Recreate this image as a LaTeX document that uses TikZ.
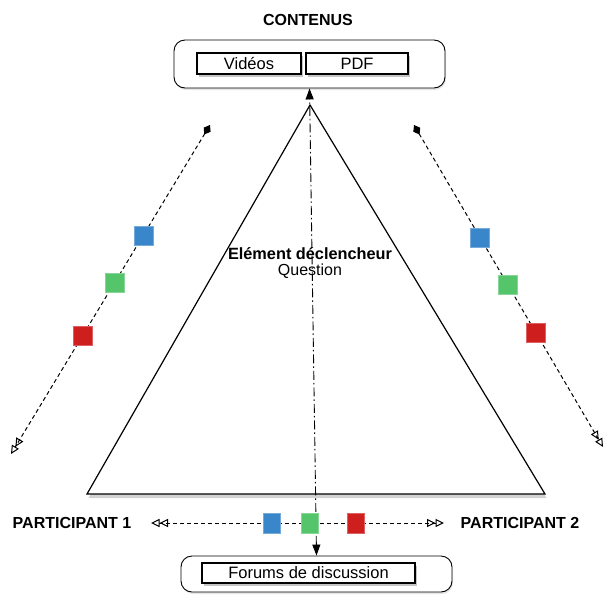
\documentclass[tikz,border=0pt]{standalone}
\usepackage{fontspec}
\setmainfont{Liberation Sans}
\usetikzlibrary{arrows.meta,shadows}
\definecolor{sqblue}{HTML}{3A86CA}
\definecolor{sqgreen}{HTML}{55C56B}
\definecolor{sqred}{HTML}{CE1E1E}
\tikzset{
  outerbox/.style={draw=black, line width=0.9pt, rounded corners=11pt, fill=white,
    drop shadow={shadow xshift=1pt, shadow yshift=-2pt, opacity=0.2}},
  innerbox/.style={draw=black, line width=1.1pt, fill=white, inner sep=0pt,
    font=\fontsize{16.5}{19}\selectfont,
    drop shadow={shadow xshift=2pt, shadow yshift=-3pt, opacity=0.45}},
  titletext/.style={font=\bfseries\fontsize{16}{19}\selectfont},
  sq/.style={solid, minimum width=19pt, minimum height=19pt, inner sep=0pt,
    draw=#1!70!white, fill=#1, line width=0.4pt},
  hsq/.style={solid, minimum width=17pt, minimum height=20pt, inner sep=0pt,
    draw=#1!70!white, fill=#1, line width=0.4pt},
  dline/.style={dash pattern=on 4pt off 3pt, line width=1pt},
  diagtips/.style={{Diamond[length=11pt,width=8pt]}-{Triangle[open,length=8.5pt,width=8pt]Triangle[open,length=8.5pt,width=8pt]}},
  bothopen/.style={{Triangle[open,length=8.5pt,width=8pt]Triangle[open,length=8.5pt,width=8pt]}-{Triangle[open,length=8.5pt,width=8pt]Triangle[open,length=8.5pt,width=8pt]}},
  dashdot/.style={line width=0.9pt, dash pattern=on 9pt off 3pt on 1.5pt off 3pt,
    {Triangle[length=11pt,width=8pt]}-{Triangle[length=11pt,width=8pt]}},
  tri/.style={draw=black, line width=1.2pt, fill=white, line join=miter,
    drop shadow={shadow xshift=1.5pt, shadow yshift=-4pt, opacity=0.35}}
}
\begin{document}
\begin{tikzpicture}[x=1pt,y=-1pt]
\useasboundingbox[fill=white] (0,0) rectangle (605,595);

% top content box
\node[titletext] (contenus) at (308,20) {CONTENUS};
\node[outerbox, minimum width=271pt, minimum height=48pt] (top) at (309.5,64) {};
\node[innerbox, minimum width=104pt, minimum height=21pt] (vid) at (249,63.5) {Vidéos};
\node[innerbox, minimum width=102pt, minimum height=21pt] (pdf) at (357,63.5) {PDF};

% bottom box
\node[outerbox, minimum width=271pt, minimum height=36pt] (bot) at (316.5,574) {};
\node[innerbox, minimum width=213pt, minimum height=20pt] (forum) at (308.5,573) {Forums de discussion};

% triangle
\coordinate (apex) at (310,105);
\coordinate (bl) at (87,494);
\coordinate (br) at (545,494);
\path[tri] (apex) -- (bl) -- (br) -- cycle;

% central dash-dot axis
\draw[dashdot] (bot.north) -- (top.south);

\node[font=\bfseries\fontsize{16.3}{19}\selectfont] (elem) at (310,254) {Elément déclencheur};
\node[font=\fontsize{16}{19}\selectfont] (quest) at (310,271) {Question};

% left diagonal
\coordinate (l1) at (210,125);
\coordinate (l2) at (11,454);
\draw[dline, diagtips] (l1) -- (l2)
  node[sq=sqblue, pos=0.335] (lb) {}
  node[sq=sqgreen, pos=0.48] (lg) {}
  node[sq=sqred, pos=0.64] (lr) {};

% right diagonal
\coordinate (r1) at (414,125);
\coordinate (r2) at (603,447);
\draw[dline, diagtips] (r1) -- (r2)
  node[sq=sqblue, pos=0.35] (rb) {}
  node[sq=sqgreen, pos=0.495] (rg) {}
  node[sq=sqred, pos=0.645] (rr) {};

% participants
\node[titletext] (p1) at (72,523) {PARTICIPANT 1};
\node[titletext] (p2) at (520,523) {PARTICIPANT 2};
\coordinate (h1) at (151,523);
\coordinate (h2) at (444,523);
\draw[dline, bothopen] (h1) -- (h2)
  node[hsq=sqblue, pos=0.413] (hb) {}
  node[hsq=sqgreen, pos=0.543] (hg) {}
  node[hsq=sqred, pos=0.697] (hr) {};
\end{tikzpicture}
\end{document}
